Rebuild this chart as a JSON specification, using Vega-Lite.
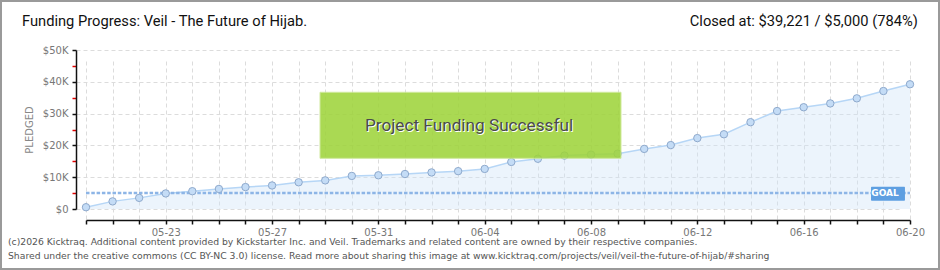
{
  "$schema": "https://vega.github.io/schema/vega-lite/v6.json",
  "width": 824,
  "height": 159,
  "autosize": {"type": "none"},
  "padding": {"left": 86, "top": 50, "right": 30, "bottom": 61},
  "background": "white",
  "config": {
    "view": {"stroke": null},
    "font": "DejaVu Sans",
    "axis": {
      "domainColor": "#111111", "domainWidth": 1.5,
      "tickColor": "#111111", "tickWidth": 1.5, "tickSize": 4,
      "gridColor": "#dcdcdc", "gridDash": [4, 3], "gridWidth": 1,
      "labelFont": "DejaVu Sans", "labelFontSize": 10, "labelColor": "#777777",
      "labelOverlap": false, "labelFlush": false
    },
    "axisX": {"offset": 11, "labelPadding": 3},
    "axisY": {"offset": 10, "labelPadding": 4, "titleFont": "DejaVu Sans", "titleFontSize": 10, "titleFontWeight": "normal", "titleColor": "#888888", "titlePadding": 8}
  },
  "resolve": {"axis": {"x": "independent", "y": "independent"}},
  "datasets": {
    "pledges": [
      {"date": "2016-05-20", "pledged": 560},
      {"date": "2016-05-21", "pledged": 2400},
      {"date": "2016-05-22", "pledged": 3500},
      {"date": "2016-05-23", "pledged": 4900},
      {"date": "2016-05-24", "pledged": 5600},
      {"date": "2016-05-25", "pledged": 6300},
      {"date": "2016-05-26", "pledged": 6900},
      {"date": "2016-05-27", "pledged": 7400},
      {"date": "2016-05-28", "pledged": 8400},
      {"date": "2016-05-29", "pledged": 9000},
      {"date": "2016-05-30", "pledged": 10400},
      {"date": "2016-05-31", "pledged": 10600},
      {"date": "2016-06-01", "pledged": 11000},
      {"date": "2016-06-02", "pledged": 11500},
      {"date": "2016-06-03", "pledged": 11900},
      {"date": "2016-06-04", "pledged": 12600},
      {"date": "2016-06-05", "pledged": 14800},
      {"date": "2016-06-06", "pledged": 15800},
      {"date": "2016-06-07", "pledged": 16800},
      {"date": "2016-06-08", "pledged": 17100},
      {"date": "2016-06-09", "pledged": 17400},
      {"date": "2016-06-10", "pledged": 18900},
      {"date": "2016-06-11", "pledged": 20100},
      {"date": "2016-06-12", "pledged": 22300},
      {"date": "2016-06-13", "pledged": 23500},
      {"date": "2016-06-14", "pledged": 27300},
      {"date": "2016-06-15", "pledged": 30800},
      {"date": "2016-06-16", "pledged": 32000},
      {"date": "2016-06-17", "pledged": 33200},
      {"date": "2016-06-18", "pledged": 34800},
      {"date": "2016-06-19", "pledged": 37100},
      {"date": "2016-06-20", "pledged": 39221}
    ]
  },
  "layer": [
    {
      "data": {"name": "pledges"},
      "mark": {"type": "area", "color": "#cfe3f8", "opacity": 0.4},
      "encoding": {
        "x": {
          "field": "date", "type": "temporal", "title": null,
          "scale": {"type": "utc", "domain": [{"year": 2016, "month": 5, "date": 20, "utc": true}, {"year": 2016, "month": 6, "date": 20, "utc": true}]},
          "axis": {
            "title": null, "domain": true, "ticks": true, "grid": true,
            "tickCount": {"interval": "day", "step": 1},
            "labelExpr": "indexof(['05-23','05-27','05-31','06-04','06-08','06-12','06-16','06-20'], utcFormat(datum.value, '%m-%d')) >= 0 ? utcFormat(datum.value, '%m-%d') : ''"
          }
        },
        "y": {
          "field": "pledged", "type": "quantitative", "title": "PLEDGED",
          "scale": {"domain": [0, 50000], "nice": false, "zero": true},
          "axis": {
            "title": "PLEDGED", "domain": true, "ticks": true, "grid": true,
            "values": [0, 5000, 10000, 15000, 20000, 25000, 30000, 35000, 40000, 45000, 50000],
            "gridOpacity": {"condition": {"test": "datum.value % 10000 != 0", "value": 0}, "value": 1},
            "tickColor": {"condition": {"test": "datum.value % 10000 != 0", "value": "#e00000"}, "value": "#111111"},
            "labelExpr": "datum.value % 10000 != 0 ? '' : (datum.value == 0 ? '$0' : '$' + (datum.value / 1000) + 'K')"
          }
        }
      }
    },
    {
      "data": {"values": [{"kind": "frame"}]},
      "mark": {"type": "rect", "filled": false, "color": "#9a9a9a", "strokeWidth": 2},
      "encoding": {
        "x": {"datum": {"year": 2016, "month": 5, "date": 16, "hours": 19, "minutes": 15, "utc": true}, "type": "temporal", "axis": null},
        "x2": {"datum": {"year": 2016, "month": 6, "date": 21, "hours": 2, "minutes": 11, "utc": true}},
        "y": {"datum": 65400, "type": "quantitative", "axis": null},
        "y2": {"datum": -18870}
      }
    },
    {
      "data": {"name": "pledges"},
      "mark": {"type": "line", "color": "#b6d6f6", "strokeWidth": 1.5},
      "encoding": {
        "x": {"field": "date", "type": "temporal", "axis": null},
        "y": {"field": "pledged", "type": "quantitative", "axis": null}
      }
    },
    {
      "data": {"values": [{"label": "goal"}]},
      "mark": {"type": "rule", "color": "#8db5e6", "strokeWidth": 2.5, "strokeDash": [3.5, 1.8]},
      "encoding": {
        "x": {"datum": {"year": 2016, "month": 5, "date": 20, "utc": true}, "type": "temporal", "axis": null},
        "x2": {"datum": {"year": 2016, "month": 6, "date": 20, "utc": true}},
        "y": {"datum": 5000, "type": "quantitative", "axis": null}
      }
    },
    {
      "data": {"name": "pledges"},
      "mark": {"type": "circle", "size": 55, "color": "#c4dcf6", "stroke": "#8ea9cc", "strokeWidth": 1, "opacity": 1},
      "encoding": {
        "x": {"field": "date", "type": "temporal", "axis": null},
        "y": {"field": "pledged", "type": "quantitative", "axis": null}
      }
    },
    {
      "data": {"values": [{"label": "Project Funding Successful"}]},
      "mark": {"type": "rect", "color": "#9fd43c", "opacity": 0.88, "stroke": "#c9e790", "strokeWidth": 1},
      "encoding": {
        "x": {"datum": {"year": 2016, "month": 5, "date": 28, "hours": 19, "minutes": 18, "utc": true}, "type": "temporal", "axis": null},
        "x2": {"datum": {"year": 2016, "month": 6, "date": 9, "hours": 3, "minutes": 4, "utc": true}},
        "y": {"datum": 36700, "type": "quantitative", "axis": null},
        "y2": {"datum": 15940}
      }
    },
    {
      "data": {"values": [{"label": "Project Funding Successful"}]},
      "mark": {"type": "text", "font": "Roboto", "fontSize": 17.2, "color": "#ffffff", "dx": 1, "dy": 1, "align": "center", "baseline": "middle"},
      "encoding": {
        "x": {"datum": {"year": 2016, "month": 6, "date": 3, "hours": 9, "minutes": 50, "utc": true}, "type": "temporal", "axis": null},
        "y": {"datum": 26100, "type": "quantitative", "axis": null},
        "text": {"field": "label"}
      }
    },
    {
      "data": {"values": [{"label": "Project Funding Successful"}]},
      "mark": {"type": "text", "font": "Roboto", "fontSize": 17.2, "color": "#4a4a4a", "align": "center", "baseline": "middle"},
      "encoding": {
        "x": {"datum": {"year": 2016, "month": 6, "date": 3, "hours": 9, "minutes": 50, "utc": true}, "type": "temporal", "axis": null},
        "y": {"datum": 26100, "type": "quantitative", "axis": null},
        "text": {"field": "label"}
      }
    },
    {
      "data": {"values": [{"label": "GOAL"}]},
      "mark": {"type": "rect", "color": "#5e9fe1", "cornerRadius": 1},
      "encoding": {
        "x": {"datum": {"year": 2016, "month": 6, "date": 18, "hours": 12, "minutes": 48, "utc": true}, "type": "temporal", "axis": null},
        "x2": {"datum": {"year": 2016, "month": 6, "date": 19, "hours": 19, "minutes": 27, "utc": true}},
        "y": {"datum": 7010, "type": "quantitative", "axis": null},
        "y2": {"datum": 2610}
      }
    },
    {
      "data": {"values": [{"label": "GOAL"}]},
      "mark": {"type": "text", "font": "DejaVu Sans", "fontSize": 9, "fontWeight": "bold", "color": "#ffffff", "align": "center", "baseline": "middle"},
      "encoding": {
        "x": {"datum": {"year": 2016, "month": 6, "date": 19, "hours": 1, "minutes": 25, "utc": true}, "type": "temporal", "axis": null},
        "y": {"datum": 5000, "type": "quantitative", "axis": null},
        "text": {"field": "label"}
      }
    },
    {
      "data": {"values": [{"label": "Funding Progress: Veil - The Future of Hijab."}]},
      "mark": {"type": "text", "font": "Roboto", "fontSize": 14.7, "color": "#111111", "align": "left", "baseline": "middle"},
      "encoding": {
        "x": {"datum": {"year": 2016, "month": 5, "date": 17, "hours": 14, "minutes": 12, "utc": true}, "type": "temporal", "axis": null},
        "y": {"datum": 58800, "type": "quantitative", "axis": null},
        "text": {"field": "label"}
      }
    },
    {
      "data": {"values": [{"label": "Closed at:  $39,221 /  $5,000 (784%)"}]},
      "mark": {"type": "text", "font": "Roboto", "fontSize": 14.7, "color": "#111111", "align": "right", "baseline": "middle"},
      "encoding": {
        "x": {"datum": {"year": 2016, "month": 6, "date": 20, "hours": 7, "minutes": 2, "utc": true}, "type": "temporal", "axis": null},
        "y": {"datum": 58800, "type": "quantitative", "axis": null},
        "text": {"field": "label"}
      }
    },
    {
      "data": {"values": [
        {"line": 1, "label": "(c)2026 Kicktraq. Additional content provided by Kickstarter Inc. and Veil. Trademarks and related content are owned by their respective companies."}
      ]},
      "mark": {"type": "text", "font": "DejaVu Sans", "fontSize": 9.25, "color": "#555555", "align": "left", "baseline": "middle"},
      "encoding": {
        "x": {"datum": {"year": 2016, "month": 5, "date": 17, "hours": 1, "minutes": 34, "utc": true}, "type": "temporal", "axis": null},
        "y": {"datum": -10380, "type": "quantitative", "axis": null},
        "text": {"field": "label"}
      }
    },
    {
      "data": {"values": [
        {"line": 2, "label": "Shared under the creative commons (CC BY-NC 3.0) license. Read more about sharing this image at www.kicktraq.com/projects/veil/veil-the-future-of-hijab/#sharing"}
      ]},
      "mark": {"type": "text", "font": "DejaVu Sans", "fontSize": 9.25, "color": "#555555", "align": "left", "baseline": "middle"},
      "encoding": {
        "x": {"datum": {"year": 2016, "month": 5, "date": 17, "hours": 1, "minutes": 34, "utc": true}, "type": "temporal", "axis": null},
        "y": {"datum": -14780, "type": "quantitative", "axis": null},
        "text": {"field": "label"}
      }
    }
  ]
}
